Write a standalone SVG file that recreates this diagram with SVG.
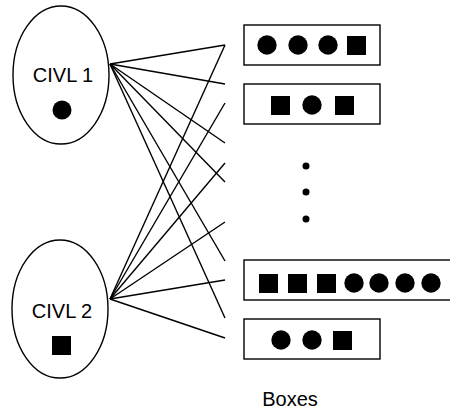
<svg xmlns="http://www.w3.org/2000/svg" width="450" height="411" viewBox="0 0 450 411">
<style>
.shape{fill:none;stroke:#000;stroke-width:1.4}
.lbl{font-family:"Liberation Sans",Arial,sans-serif;font-size:20px;fill:#000;text-anchor:middle}
.f{fill:#000}
.ln{stroke:#000;stroke-width:1.4;fill:none}
</style>
<rect width="450" height="411" fill="#fff"/>
<g id="civl1">
<ellipse class="shape" cx="61" cy="75" rx="48" ry="69"/>
<text class="lbl" x="63" y="82">CIVL 1</text>
<circle class="f" cx="62" cy="110" r="9.5"/>
</g>
<g id="civl2">
<ellipse class="shape" cx="60" cy="309" rx="48" ry="69"/>
<text class="lbl" x="62" y="318">CIVL 2</text>
<rect class="f" x="52" y="336" width="19" height="19"/>
</g>
<g id="connectors">
<line class="ln" x1="110" y1="64" x2="225" y2="45"/>
<line class="ln" x1="110" y1="64" x2="225" y2="84"/>
<line class="ln" x1="110" y1="64" x2="225" y2="143"/>
<line class="ln" x1="110" y1="64" x2="225" y2="182"/>
<line class="ln" x1="110" y1="64" x2="225" y2="261"/>
<line class="ln" x1="110" y1="64" x2="225" y2="318"/>
<line class="ln" x1="110" y1="299" x2="225" y2="45"/>
<line class="ln" x1="110" y1="299" x2="225" y2="103"/>
<line class="ln" x1="110" y1="299" x2="225" y2="163"/>
<line class="ln" x1="110" y1="299" x2="225" y2="222"/>
<line class="ln" x1="110" y1="299" x2="225" y2="280"/>
<line class="ln" x1="110" y1="299" x2="225" y2="338"/>
</g>
<g id="box1">
<rect class="shape" x="244" y="25" width="136" height="40"/>
<circle class="f" cx="267" cy="45" r="9.7"/>
<circle class="f" cx="298" cy="45" r="9.7"/>
<circle class="f" cx="328" cy="45" r="9.7"/>
<rect class="f" x="347" y="36" width="19" height="19"/>
</g>
<g id="box2">
<rect class="shape" x="244" y="84" width="136" height="40"/>
<rect class="f" x="271" y="96" width="19" height="19"/>
<circle class="f" cx="312" cy="105" r="9.7"/>
<rect class="f" x="335" y="96" width="19" height="19"/>
</g>
<g id="ellipsis">
<circle class="f" cx="306" cy="166" r="3.5"/>
<circle class="f" cx="306" cy="192" r="3.5"/>
<circle class="f" cx="306" cy="219" r="3.5"/>
</g>
<g id="box3">
<rect class="shape" x="244" y="260" width="210" height="40"/>
<rect class="f" x="259" y="274" width="19" height="19"/>
<rect class="f" x="288" y="274" width="19" height="19"/>
<rect class="f" x="317" y="274" width="19" height="19"/>
<circle class="f" cx="354" cy="283" r="9.7"/>
<circle class="f" cx="379" cy="283" r="9.7"/>
<circle class="f" cx="405" cy="283" r="9.7"/>
<circle class="f" cx="431" cy="283" r="9.7"/>
</g>
<g id="box4">
<rect class="shape" x="244" y="319" width="136" height="40"/>
<circle class="f" cx="281" cy="340" r="9.7"/>
<circle class="f" cx="312" cy="340" r="9.7"/>
<rect class="f" x="333" y="331" width="19" height="19"/>
</g>
<g id="caption">
<text class="lbl" x="290" y="406">Boxes</text>
</g>
</svg>
